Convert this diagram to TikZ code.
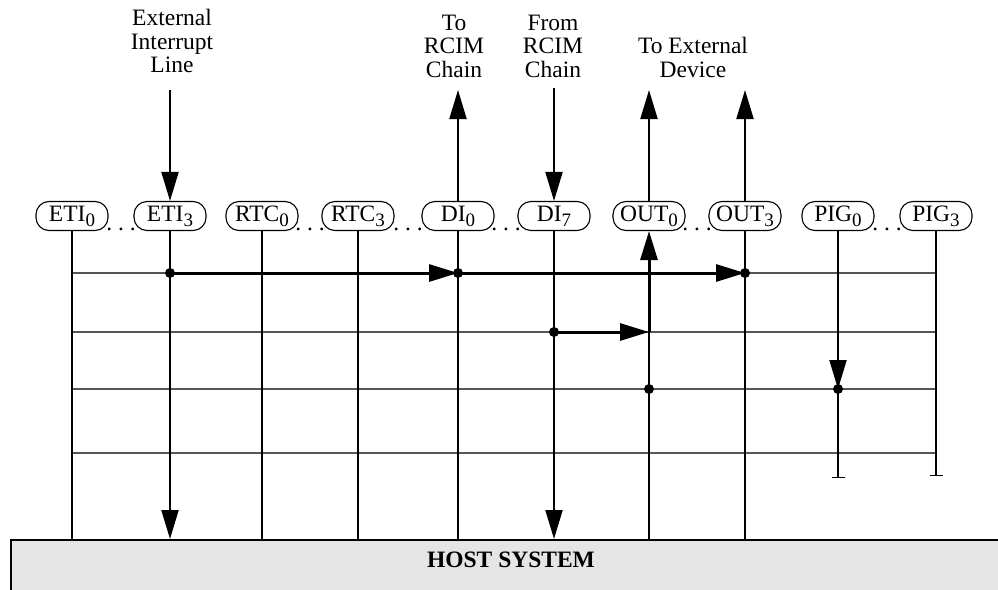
\documentclass[tikz,border=0pt]{standalone}
\usepackage{fontspec}
\setmainfont{Liberation Serif}
\usetikzlibrary{arrows.meta,calc}
\definecolor{rowgray}{HTML}{555555}
\definecolor{hostgray}{HTML}{E5E5E5}
\newcommand\lsub[1]{\raisebox{-5pt}{\fontsize{19}{19}\selectfont #1}}
\begin{document}
\begin{tikzpicture}[x=1pt,y=-1pt,
  lab/.style={font=\fontsize{23.5}{23.4}\selectfont, align=center, inner sep=0pt},
  pill/.style={draw, line width=1.1pt, rounded corners=13pt, minimum width=72pt,
    minimum height=29pt, inner sep=0pt, text height=15.5pt, text depth=5pt,
    font=\fontsize{23.5}{24}\selectfont},
  sepdots/.style={font=\fontsize{23.5}{24}\selectfont, inner sep=0pt, anchor=base},
  vline/.style={line width=2pt},
  row/.style={line width=1.5pt, draw=rowgray},
  thk/.style={line width=3pt},
  tip/.style={-{Triangle[length=29pt,width=17pt]}},
  barend/.style={-{Bar[width=13pt,line width=1.5pt]}},
  jdot/.style={circle, fill, inner sep=0pt, minimum size=10pt},
  hostbox/.style={draw, line width=2pt, fill=hostgray, inner sep=0pt}
]
\useasboundingbox (0,0) rectangle (998,589);
\clip (0,0) rectangle (998,589);

% host system
\node[hostbox, anchor=north west, minimum width=1000pt, minimum height=90pt] (host) at (10,539) {};
\node[font=\bfseries\fontsize{23.5}{24}\selectfont, inner sep=0pt] (hostlabel) at (511,560) {HOST SYSTEM};

% pills
\foreach \n/\t/\x in {eti0/ETI\lsub{0}/72, eti3/ETI\lsub{3}/170, rtc0/RTC\lsub{0}/262,
  rtc3/RTC\lsub{3}/358, di0/DI\lsub{0}/458, di7/DI\lsub{7}/554, out0/OUT\lsub{0}/649,
  out3/OUT\lsub{3}/745, pig0/PIG\lsub{0}/838, pig3/PIG\lsub{3}/936}
  \node[pill] (\n) at (\x,216) {\t};

% separating dots
\foreach \a/\b in {eti0/eti3, rtc0/rtc3, rtc3/di0, di0/di7, out0/out3, pig0/pig3}
  \path ($(\a.east)!0.5!(\b.west)$) ++(0,14.5) node[sepdots] {.\ .\ .};

% top labels (anchor=base is the baseline of the last line)
\node[lab, anchor=base] (extlab) at (172,72.7) {External\\Interrupt\\Line};
\node[lab, anchor=base] (tolab) at (454,77.3) {To\\RCIM\\Chain};
\node[lab, anchor=base] (fromlab) at (553,77.3) {From\\RCIM\\Chain};
\node[lab, anchor=base] (devlab) at (693,77.3) {To External\\Device};

% coordinates
\coordinate (r1) at (0,273);
\coordinate (r2) at (0,332);
\coordinate (r3) at (0,389);
\coordinate (r4) at (0,453);
\coordinate (extin) at (170,90);
\coordinate (rcimout) at (458,90);
\coordinate (rcimin) at (554,88);
\coordinate (dev0) at (649,90);
\coordinate (dev3) at (745,90);
\coordinate (pig0end) at (838,478);
\coordinate (pig3end) at (936,476);

% rows
\foreach \r in {r1,r2,r3,r4}
  \draw[row] (eti0 |- \r) -- (pig3 |- \r);

% verticals
\foreach \n in {eti0,rtc0,rtc3,di0,out3}
  \draw[vline] (\n.south) -- (\n |- host.north);
\draw[vline,tip] (extin) -- (eti3.north);
\draw[vline,tip] (eti3.south) -- (eti3 |- host.north);
\draw[vline,tip] (di0.north) -- (rcimout);
\draw[vline,tip] (rcimin) -- (di7.north);
\draw[vline,tip] (di7.south) -- (di7 |- host.north);
\draw[vline,tip] (out0.north) -- (dev0);
\draw[vline,tip] (out3.north) -- (dev3);
\draw[vline] (out0 |- host.north) -- (out0 |- r2);
\draw[thk,tip] (out0 |- r2) -- (out0.south);
\draw[vline,barend] (pig0.south) -- (pig0end);
\draw[vline,tip] (pig0.south) -- (pig0 |- r3);
\draw[vline,barend] (pig3.south) -- (pig3end);

% thick row segments
\draw[thk,tip] (eti3 |- r1) -- (di0 |- r1);
\draw[thk,tip] (di0 |- r1) -- (out3 |- r1);
\draw[thk,tip] (di7 |- r2) -- (out0 |- r2);

% junction dots
\node[jdot] (j1) at (eti3 |- r1) {};
\node[jdot] (j2) at (di0 |- r1) {};
\node[jdot] (j3) at (out3 |- r1) {};
\node[jdot] (j4) at (di7 |- r2) {};
\node[jdot] (j5) at (out0 |- r3) {};
\node[jdot] (j6) at (pig0 |- r3) {};
\end{tikzpicture}
\end{document}
